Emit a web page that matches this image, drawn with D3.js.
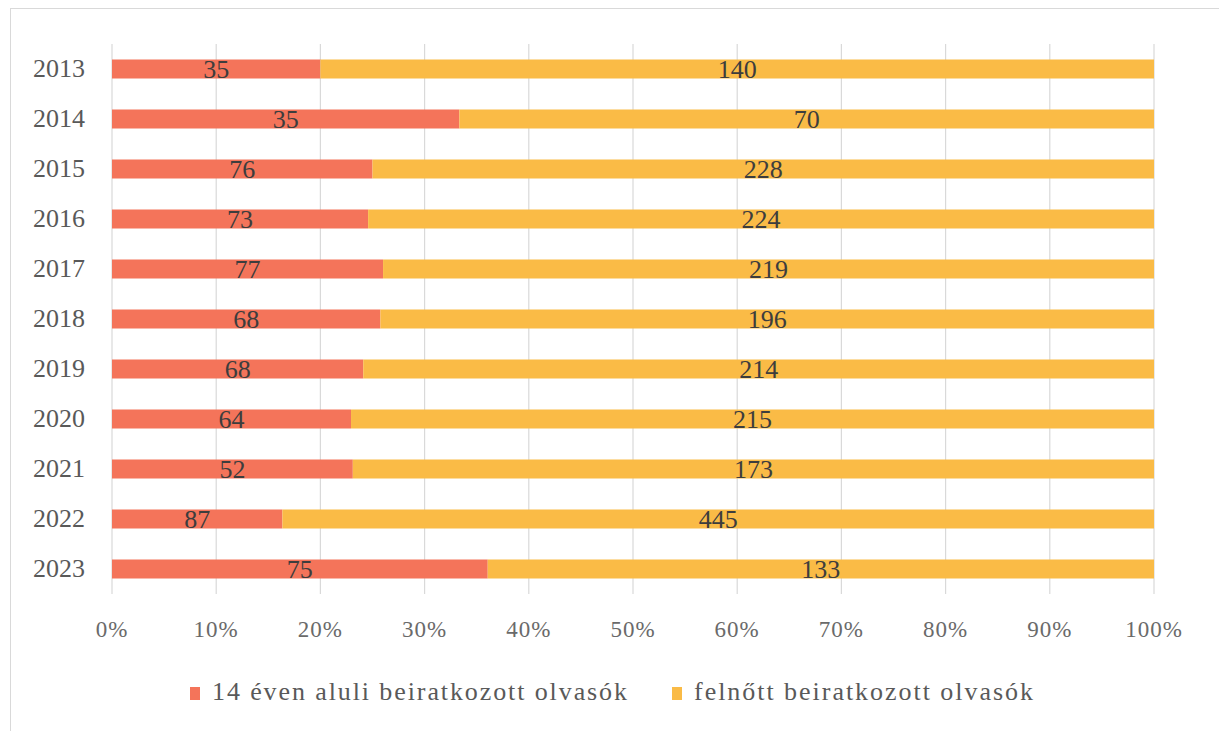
<!DOCTYPE html>
<html><head><meta charset="utf-8">
<script src="https://cdn.jsdelivr.net/npm/d3@7"></script>
<style>body{margin:0;background:#fff;} svg{display:block;}</style>
</head><body>
<svg id="chart" width="1219" height="731"></svg>
<script>
const years = ["2013","2014","2015","2016","2017","2018","2019","2020","2021","2022","2023"];
const children = [35,35,76,73,77,68,68,64,52,87,75];
const adults = [140,70,228,224,219,196,214,215,173,445,133];
const seriesNames = ["14 éven aluli beiratkozott olvasók","felnőtt beiratkozott olvasók"];
const seriesColors = ["#F4745A","#FABB46"];
const tickValues = [0,0.1,0.2,0.3,0.4,0.5,0.6,0.7,0.8,0.9,1];

const FONT = '"Liberation Serif"';
const svg = d3.select("#chart");
svg.append("rect").attr("x",10.5).attr("y",8.5).attr("width",1220).attr("height",740)
  .attr("fill","#fff").attr("stroke","#d9d9d9");

const x = d3.scaleLinear().domain([0,1]).range([112,1154]);
const y = d3.scaleBand().domain(years).range([44,594]).paddingInner(0.62).paddingOuter(0.31);

svg.append("g").selectAll("line").data(tickValues).join("line")
  .attr("x1",d=>x(d)).attr("x2",d=>x(d)).attr("y1",44).attr("y2",594)
  .attr("stroke","#d9d9d9").attr("stroke-width",1.2);

const rows = years.map((yr,i)=>{const t=children[i]+adults[i];return {yr, vals:[children[i],adults[i]], p0:children[i]/t};});

const g = svg.append("g");
rows.forEach(r=>{
  const segs=[{s:0,v:r.vals[0],a:0,b:r.p0},{s:1,v:r.vals[1],a:r.p0,b:1}];
  segs.forEach(sg=>{
    g.append("rect").attr("x",x(sg.a)).attr("y",y(r.yr)).attr("width",x(sg.b)-x(sg.a)).attr("height",y.bandwidth())
      .attr("fill",seriesColors[sg.s]);
    g.append("text").attr("x",(x(sg.a)+x(sg.b))/2).attr("y",y(r.yr)+y.bandwidth()/2+9)
      .attr("text-anchor","middle").style("font-family",FONT).attr("font-size",26)
      .attr("fill","#3d3d3d").text(sg.v);
  });
});

svg.append("g").selectAll("text").data(years).join("text")
  .attr("x",85).attr("y",d=>y(d)+y.bandwidth()/2+8).attr("text-anchor","end")
  .style("font-family",FONT).attr("font-size",26).attr("fill","#595959").text(d=>d);

svg.append("g").selectAll("text").data(tickValues).join("text")
  .attr("x",d=>x(d)).attr("y",637).attr("text-anchor","middle")
  .style("font-family",FONT).attr("font-size",23).attr("letter-spacing",1).attr("fill","#6a6a6a")
  .text(d=>d3.format(".0%")(d));

const leg = [{x:190,w:415},{x:672,w:339}];
leg.forEach((l,i)=>{
  svg.append("rect").attr("x",l.x).attr("y",687).attr("width",10).attr("height",13).attr("fill",seriesColors[i]);
  svg.append("text").attr("x",l.x+22).attr("y",700).style("font-family",FONT).attr("font-size",26)
    .attr("textLength",l.w).attr("lengthAdjust","spacing").attr("fill","#595959").text(seriesNames[i]);
});
</script>
</body></html>
